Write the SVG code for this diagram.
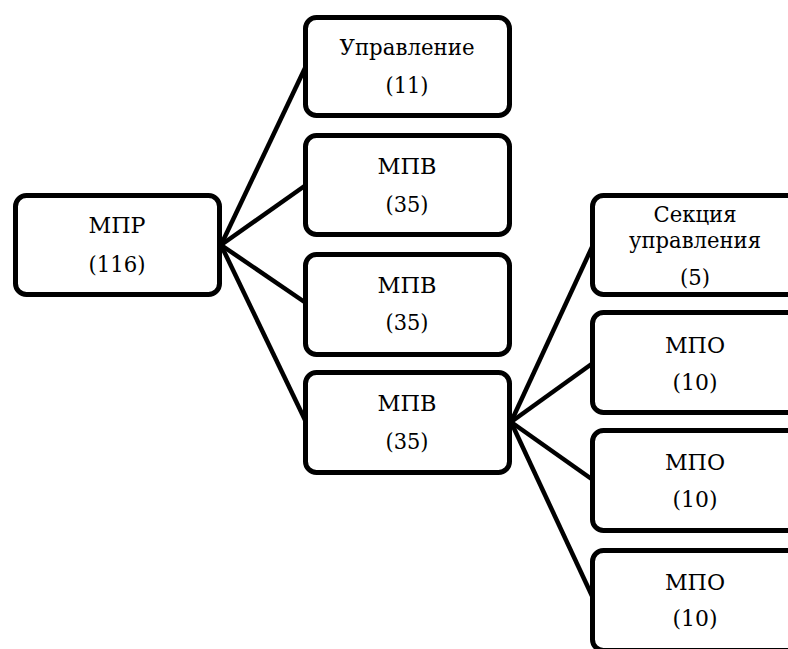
<svg xmlns="http://www.w3.org/2000/svg" width="788" height="649" viewBox="0 0 788 649">
<style>
.box{fill:#fff;stroke:#000;stroke-width:5}
text{font-family:'DejaVu Serif',serif;font-size:23px;fill:#000;text-anchor:middle}
.c{stroke:#000;stroke-width:4.5;fill:none}
</style>
<rect width="788" height="649" fill="#fff"/>
<g id="connectors">
<line class="c" x1="221" y1="245" x2="306" y2="66"/>
<line class="c" x1="221" y1="245" x2="306" y2="185"/>
<line class="c" x1="221" y1="245" x2="306" y2="303"/>
<line class="c" x1="221" y1="245" x2="306" y2="422"/>
<line class="c" x1="511" y1="422" x2="593" y2="245"/>
<line class="c" x1="511" y1="422" x2="593" y2="363"/>
<line class="c" x1="511" y1="422" x2="593" y2="480"/>
<line class="c" x1="511" y1="422" x2="593" y2="598"/>
</g>
<g id="n-mpr"><rect class="box" x="15.5" y="195.5" width="204" height="99" rx="11"/><text x="117" y="233" textLength="57" lengthAdjust="spacingAndGlyphs">МПР</text><text x="117" y="272" textLength="57" lengthAdjust="spacingAndGlyphs">(116)</text></g>
<g id="n-upr"><rect class="box" x="305.5" y="17.5" width="204" height="98" rx="11"/><text x="407" y="55" textLength="135" lengthAdjust="spacingAndGlyphs">Управление</text><text x="407" y="93" textLength="43" lengthAdjust="spacingAndGlyphs">(11)</text></g>
<g id="n-mpv1"><rect class="box" x="305.5" y="135.5" width="204" height="99" rx="11"/><text x="407" y="174" textLength="59" lengthAdjust="spacingAndGlyphs">МПВ</text><text x="407" y="212" textLength="43" lengthAdjust="spacingAndGlyphs">(35)</text></g>
<g id="n-mpv2"><rect class="box" x="305.5" y="254.5" width="204" height="100" rx="11"/><text x="407" y="293" textLength="59" lengthAdjust="spacingAndGlyphs">МПВ</text><text x="407" y="330" textLength="43" lengthAdjust="spacingAndGlyphs">(35)</text></g>
<g id="n-mpv3"><rect class="box" x="305.5" y="372.5" width="204" height="100" rx="11"/><text x="407" y="411" textLength="59" lengthAdjust="spacingAndGlyphs">МПВ</text><text x="407" y="449" textLength="43" lengthAdjust="spacingAndGlyphs">(35)</text></g>
<g id="n-sec"><rect class="box" x="592.5" y="195.5" width="210" height="99" rx="11"/><text x="695" y="222" textLength="83" lengthAdjust="spacingAndGlyphs">Секция</text><text x="695" y="248" textLength="132" lengthAdjust="spacingAndGlyphs">управления</text><text x="695" y="285" textLength="30" lengthAdjust="spacingAndGlyphs">(5)</text></g>
<g id="n-mpo1"><rect class="box" x="592.5" y="312.5" width="210" height="100" rx="11"/><text x="695" y="353" textLength="60" lengthAdjust="spacingAndGlyphs">МПО</text><text x="695" y="390" textLength="45" lengthAdjust="spacingAndGlyphs">(10)</text></g>
<g id="n-mpo2"><rect class="box" x="592.5" y="430.5" width="210" height="100" rx="11"/><text x="695" y="470" textLength="60" lengthAdjust="spacingAndGlyphs">МПО</text><text x="695" y="507" textLength="45" lengthAdjust="spacingAndGlyphs">(10)</text></g>
<g id="n-mpo3"><rect class="box" x="592.5" y="550.5" width="210" height="100" rx="11"/><text x="695" y="590" textLength="60" lengthAdjust="spacingAndGlyphs">МПО</text><text x="695" y="626" textLength="45" lengthAdjust="spacingAndGlyphs">(10)</text></g>
</svg>
